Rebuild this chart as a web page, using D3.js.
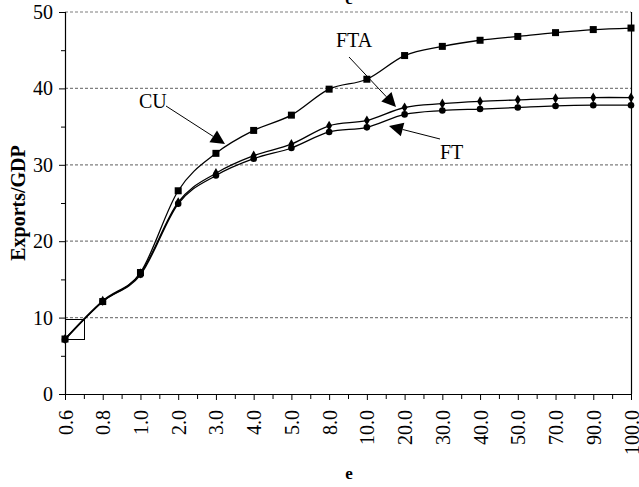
<!DOCTYPE html>
<html>
<head>
<meta charset="utf-8">
<script src="https://cdn.jsdelivr.net/npm/d3@7"></script>
<style>
  html, body { margin: 0; padding: 0; background: #fff; }
  svg { display: block; }
  text { font-family: "Liberation Serif", "Times New Roman", serif; fill: #000; }
</style>
</head>
<body>
<svg id="chart" width="639" height="487"></svg>
<script>
// ---- data ----
const categories = ["0.6","0.8","1.0","2.0","3.0","4.0","5.0","8.0","10.0","20.0","30.0","40.0","50.0","70.0","90.0","100.0"];
const cuValues  = [7.2, 12.1, 15.9, 26.6, 31.5, 34.5, 36.5, 39.9, 41.2, 44.3, 45.5, 46.3, 46.8, 47.3, 47.7, 47.9];
const ftaValues = [7.2, 12.2, 15.8, 25.1, 28.9, 31.2, 32.7, 35.1, 35.8, 37.5, 38.0, 38.3, 38.5, 38.7, 38.8, 38.8];
const ftValues  = [7.1, 12.1, 15.6, 24.9, 28.6, 30.8, 32.2, 34.3, 34.9, 36.6, 37.1, 37.3, 37.5, 37.7, 37.8, 37.8];
const yMajorTicks = [0, 10, 20, 30, 40, 50];
const yMinorTicks = [5, 15, 25, 35, 45];
const gridValues = [10, 20, 30, 40, 50];
const seriesLabels = ["CU", "FTA", "FT"];
const xTitle = "e";
const yTitle = "Exports/GDP";

// ---- layout ----
const svg = d3.select("#chart");
const pLeft = 65, pRight = 631, pTop = 12, pBottom = 394;
const x = d3.scalePoint().domain(categories).range([pLeft, pRight]);
const y = d3.scaleLinear().domain([0, 50]).range([pBottom, pTop]);

// grid lines
svg.append("g").selectAll("line").data(gridValues).join("line")
  .attr("x1", pLeft).attr("x2", pRight)
  .attr("y1", d => y(d)).attr("y2", d => y(d))
  .attr("stroke", "#7f7f7f").attr("stroke-width", 1.2)
  .attr("stroke-dasharray", "3,2");

// right border
svg.append("line").attr("x1", pRight + 0.5).attr("x2", pRight + 0.5)
  .attr("y1", pTop).attr("y2", pBottom).attr("stroke", "#000").attr("stroke-width", 1.2);

// y axis
const yAxis = svg.append("g").attr("transform", `translate(${pLeft},0)`)
  .call(d3.axisLeft(y).tickValues(yMajorTicks).tickSize(6).tickPadding(6).tickFormat(d3.format("d")));
yAxis.select(".domain").attr("stroke-width", 1.2);
yAxis.selectAll("text").style("font-size", "20px").style("font-family", "Liberation Serif");
svg.append("g").selectAll("line").data(yMinorTicks).join("line")
  .attr("x1", pLeft - 4).attr("x2", pLeft)
  .attr("y1", d => y(d) + 0.5).attr("y2", d => y(d) + 0.5)
  .attr("stroke", "#000");

// x axis
const xAxis = svg.append("g").attr("transform", `translate(0,${pBottom})`)
  .call(d3.axisBottom(x).tickSize(6).tickSizeOuter(0));
xAxis.select(".domain").attr("stroke-width", 1.2);
xAxis.selectAll("text")
  .style("font-size", "20px").style("font-family", "Liberation Serif")
  .attr("text-anchor", "end")
  .attr("transform", "rotate(-90)")
  .attr("x", -16).attr("y", 0).attr("dy", "0.35em");
const mids = categories.slice(0, -1).map((c, i) => (x(c) + x(categories[i + 1])) / 2);
svg.append("g").selectAll("line").data(mids).join("line")
  .attr("x1", d => d + 0.5).attr("x2", d => d + 0.5)
  .attr("y1", pBottom).attr("y2", pBottom + 5)
  .attr("stroke", "#000");

// titles
svg.append("text").attr("x", 349).attr("y", 479).attr("text-anchor", "middle")
  .style("font-size", "17px").style("font-weight", "bold").text(xTitle);
svg.append("text").attr("x", 349).attr("y", 4).attr("text-anchor", "middle")
  .style("font-size", "17px").style("font-weight", "bold").text(xTitle);
svg.append("text").attr("transform", "translate(25,203) rotate(-90)")
  .attr("text-anchor", "middle")
  .style("font-size", "20px").style("font-weight", "bold").text(yTitle);

// series lines
const line = d3.line().x((d, i) => x(categories[i])).y(d => y(d)).curve(d3.curveCardinal.tension(0));
[cuValues, ftaValues, ftValues].forEach(vals => {
  svg.append("path").datum(vals).attr("d", line)
    .attr("fill", "none").attr("stroke", "#000").attr("stroke-width", 1.3);
});

// markers
svg.append("g").selectAll("rect").data(cuValues).join("rect")
  .attr("x", (d, i) => x(categories[i]) - 3.5).attr("y", d => y(d) - 3.5)
  .attr("width", 7).attr("height", 7).attr("fill", "#000");
svg.append("g").selectAll("path").data(ftaValues).join("path")
  .attr("transform", (d, i) => `translate(${x(categories[i])},${y(d)})`)
  .attr("d", d3.symbol(d3.symbolDiamond, 30)).attr("fill", "#000");
svg.append("g").selectAll("circle").data(ftValues).join("circle")
  .attr("cx", (d, i) => x(categories[i])).attr("cy", d => y(d))
  .attr("r", 3.3).attr("fill", "#000");

// small box near first point
svg.append("rect").attr("x", x(categories[0]) + 0.5).attr("y", 319.5)
  .attr("width", 19).attr("height", 20)
  .attr("fill", "none").attr("stroke", "#000").attr("stroke-width", 1);

// annotations with arrows
function arrow(x1, y1, x2, y2) {
  const dx = x2 - x1, dy = y2 - y1, len = Math.hypot(dx, dy);
  const ux = dx / len, uy = dy / len, px = -uy, py = ux;
  const hl = 14, hw = 7;
  const bx = x2 - ux * hl, by = y2 - uy * hl;
  svg.append("line").attr("x1", x1).attr("y1", y1).attr("x2", bx).attr("y2", by)
    .attr("stroke", "#000").attr("stroke-width", 1);
  svg.append("polygon")
    .attr("points", `${x2},${y2} ${bx + px * hw},${by + py * hw} ${bx - px * hw},${by - py * hw}`)
    .attr("fill", "#000");
}
svg.append("text").attr("x", 139).attr("y", 108).style("font-size", "20px").text(seriesLabels[0]);
arrow(166, 106, 225, 144);
svg.append("text").attr("x", 336).attr("y", 47).style("font-size", "20px").text(seriesLabels[1]);
arrow(349, 57, 396, 107);
svg.append("text").attr("x", 440).attr("y", 159).style("font-size", "20px").text(seriesLabels[2]);
arrow(440, 139, 389, 126);
</script>
</body>
</html>
